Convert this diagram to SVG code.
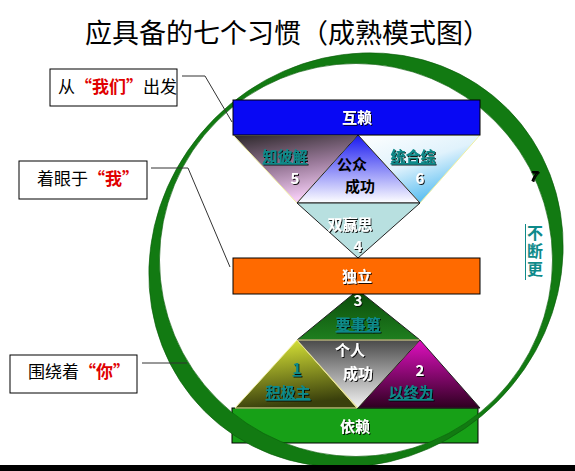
<svg xmlns="http://www.w3.org/2000/svg" width="575" height="471" viewBox="0 0 575 471">
<style>
.cjk{font-family:"Noto Sans CJK SC","Noto Sans CJK JP",sans-serif}
.title{font-size:27px;fill:#000}
.lbl{font-size:17px;fill:#000}
.red{fill:#e00000;font-weight:bold}
.box{fill:#fff;stroke:#000;stroke-width:1}
.conn{fill:none;stroke:#333;stroke-width:1}
.bar{stroke:#000;stroke-width:1}
.wt{font-size:15px;font-weight:bold;fill:#fff;text-anchor:middle}
.teal{font-size:15px;font-weight:bold;fill:#0e8a8a;text-anchor:middle;text-decoration:underline}
.num{font-size:15px;font-weight:bold;fill:#fff;text-anchor:middle}
.blk{font-size:15px;font-weight:bold;fill:#000;text-anchor:middle}
</style>
<defs>
<filter id="sh" x="-20%" y="-20%" width="140%" height="140%">
<feDropShadow dx="1" dy="1" stdDeviation="0.3" flood-color="#000" flood-opacity="0.9"/>
</filter>
<linearGradient id="gL" x1="0" y1="0" x2="0.3" y2="1"><stop offset="0" stop-color="#2a2628"/><stop offset="0.55" stop-color="#9a7a9a"/><stop offset="1" stop-color="#f4ccf4"/></linearGradient>
<linearGradient id="gC" x1="0" y1="0" x2="0" y2="1"><stop offset="0" stop-color="#1818f0"/><stop offset="1" stop-color="#ffffff"/></linearGradient>
<linearGradient id="gR" x1="0" y1="0" x2="0.6" y2="1"><stop offset="0" stop-color="#ffffff"/><stop offset="0.5" stop-color="#e0f2fc"/><stop offset="1" stop-color="#4ab8f0"/></linearGradient>
<linearGradient id="gT" x1="0" y1="0" x2="0" y2="1"><stop offset="0" stop-color="#0a4a0a"/><stop offset="1" stop-color="#1f7f1f"/></linearGradient>
<linearGradient id="gY" x1="0" y1="0" x2="0.2" y2="1"><stop offset="0" stop-color="#e4f03a"/><stop offset="1" stop-color="#3a400c"/></linearGradient>
<linearGradient id="gG" x1="0" y1="0" x2="0" y2="1"><stop offset="0" stop-color="#4a4a4a"/><stop offset="1" stop-color="#f4f4f4"/></linearGradient>
<linearGradient id="gM" x1="0" y1="0" x2="0" y2="1"><stop offset="0" stop-color="#e010c0"/><stop offset="1" stop-color="#2e0020"/></linearGradient>
</defs>
<rect width="575" height="471" fill="#fff"/>
<text class="cjk title" x="85" y="43">应具备的七个习惯（成熟模式图）</text>

<g id="node-yilai">
<rect class="bar" x="232" y="408" width="246" height="35" fill="#17a017"/>
<text class="cjk wt" x="355" y="432" filter="url(#sh)">依赖</text>
</g>

<g id="ring" transform="translate(356,260) rotate(-45)">
<path fill="#127a12" stroke="#0b5e0b" stroke-width="0.6" fill-rule="evenodd" d="M-214,0 A214,200 0 1 0 214,0 A214,200 0 1 0 -214,0 Z M-196.5,0 A196.5,196.5 0 1 0 196.5,0 A196.5,196.5 0 1 0 -196.5,0 Z"/>
</g>

<g id="connectors">
<polyline class="conn" points="182,76 205,76 232,122"/>
<polyline class="conn" points="151,168 188,168 230,267"/>
<polyline class="conn" points="142,363 187,363"/>
</g>

<g id="label-women">
<rect class="box" x="50" y="69" width="127" height="37"/>
<text class="cjk lbl" x="58" y="93">从<tspan class="red">“我们”</tspan>出发</text>
</g>
<g id="label-wo">
<rect class="box" x="19" y="161" width="128" height="38"/>
<text class="cjk lbl" x="37" y="185">着眼于<tspan class="red">“我”</tspan></text>
</g>
<g id="label-ni">
<rect class="box" x="10" y="355" width="127" height="38"/>
<text class="cjk lbl" x="28" y="378">围绕着<tspan class="red">“你”</tspan></text>
</g>

<g id="node-zhibijie">
<polygon points="233,135 358,135 297,203" fill="url(#gL)" stroke="#f0f0a0" stroke-width="1"/>
<text class="cjk teal" x="285" y="162" filter="url(#sh)">知彼解</text>
<text class="cjk num" x="295" y="184" filter="url(#sh)">5</text>
</g>
<g id="node-tonghezong">
<polygon points="358,135 480,135 420,203" fill="url(#gR)" stroke="#f0f0a0" stroke-width="1"/>
<text class="cjk teal" x="413" y="162" filter="url(#sh)">统合综</text>
<text class="cjk num" x="420" y="184" filter="url(#sh)">6</text>
</g>
<g id="node-gongzhong">
<polygon points="358,135 297,203 420,203" fill="url(#gC)" stroke="#222" stroke-width="1"/>
<text class="cjk blk" x="352" y="170">公众</text>
<text class="cjk blk" x="360" y="192">成功</text>
</g>
<g id="node-shuangying">
<polygon points="297,203 420,203 358,258" fill="#b8e0e0" stroke="#222" stroke-width="1"/>
<text class="cjk num" x="350" y="230" filter="url(#sh)">双赢思</text>
<text class="cjk num" x="358" y="252" filter="url(#sh)">4</text>
</g>

<g id="node-huhlai">
<rect class="bar" x="233" y="100" width="247" height="35" fill="#0808f4"/>
<text class="cjk wt" x="357" y="123" filter="url(#sh)">互赖</text>
</g>

<g id="node-yaoshidi">
<polygon points="358,290 297,340 420,340" fill="url(#gT)" stroke="#222" stroke-width="1"/>
<text class="cjk num" x="358" y="306" filter="url(#sh)">3</text>
<text class="cjk teal" x="358" y="330" filter="url(#sh)">要事第</text>
</g>
<g id="node-duli">
<rect class="bar" x="233" y="258" width="247" height="36" fill="#ff6a00"/>
<text class="cjk wt" x="357" y="282" filter="url(#sh)">独立</text>
</g>

<g id="node-jijizhu">
<polygon points="297,340 235,408 357,408" fill="url(#gY)" stroke="#f0f0a0" stroke-width="1"/>
<text class="cjk teal" x="297" y="374" filter="url(#sh)">1</text>
<text class="cjk teal" x="288" y="398" filter="url(#sh)">积极主</text>
</g>
<g id="node-gerenchenggong">
<polygon points="297,340 420,340 358,408" fill="url(#gG)" stroke="#e8e090" stroke-width="1"/>
<text class="cjk num" x="350" y="356" filter="url(#sh)">个人</text>
<text class="cjk num" x="358" y="379" filter="url(#sh)">成功</text>
</g>
<g id="node-yizhongwei">
<polygon points="420,340 358,408 480,408" fill="url(#gM)" stroke="#222" stroke-width="1"/>
<text class="cjk num" x="420" y="376" filter="url(#sh)">2</text>
<text class="cjk teal" x="411" y="398" filter="url(#sh)">以终为</text>
</g>

<g id="label-7">
<text class="cjk" x="533" y="181" font-size="14" font-weight="bold" font-style="italic" fill="#000" text-anchor="middle" filter="url(#sh)">7</text>
<line x1="525.5" y1="224" x2="525.5" y2="280" stroke="#0e8a8a" stroke-width="1"/>
<text class="cjk" x="535" y="225" font-size="16" font-weight="bold" fill="#0e8a8a" style="writing-mode:vertical-rl" letter-spacing="2">不断更</text>
</g>

<rect x="0" y="465" width="575" height="6" fill="#000"/>
</svg>
